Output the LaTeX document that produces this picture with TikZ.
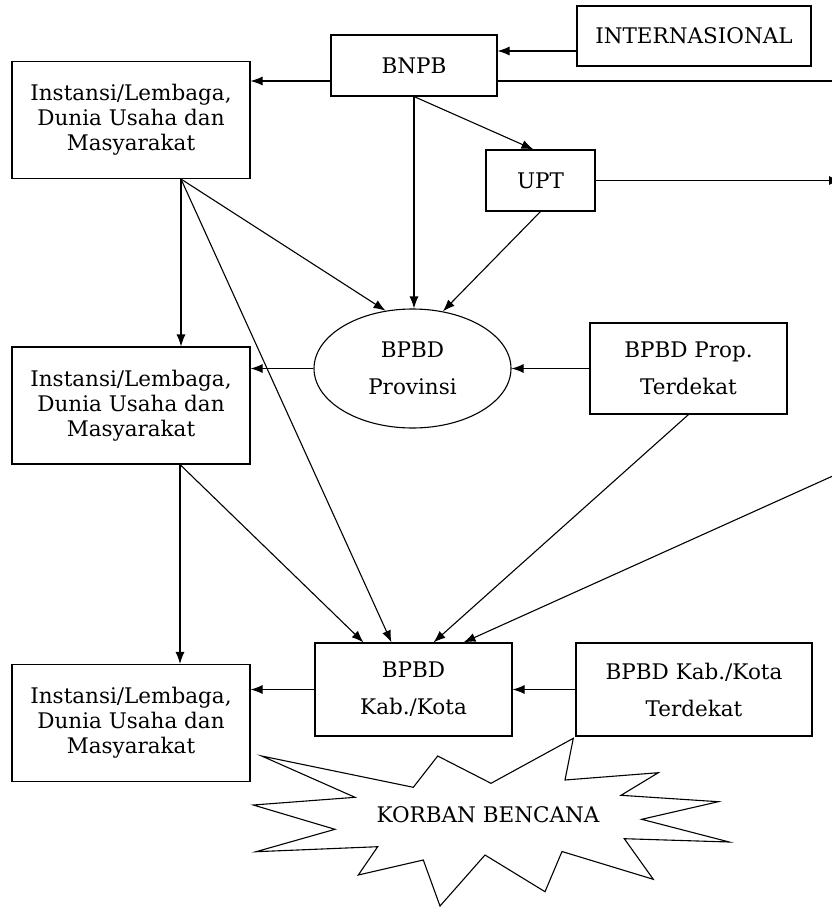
\documentclass[tikz,border=0pt]{standalone}
\usepackage{fontspec}
\setmainfont{DejaVu Serif}
\usetikzlibrary{shapes.geometric,arrows.meta}
\begin{document}
\begin{tikzpicture}[x=1pt, y=-1pt, >={Latex[length=12pt,width=9pt]}, line width=1.1pt, font={\fontsize{21.5}{25}\selectfont}]
	\tikzstyle{kotak} = [rectangle, draw=black, align=center, inner sep=0pt]
	\tikzstyle{instansi} = [kotak, minimum width=238pt, minimum height=117pt]
	\useasboundingbox (0,0) rectangle (831,909);
	\node[kotak, minimum width=234pt, minimum height=60pt] (intl) at (694,36) {INTERNASIONAL};
	\node[kotak, minimum width=166pt, minimum height=61pt] (bnpb) at (414,65.5) {BNPB};
	\node[instansi] (inst1) at (131,120) {Instansi/Lembaga,\\Dunia Usaha dan\\Masyarakat};
	\node[kotak, minimum width=109pt, minimum height=61pt] (upt) at (540.5,180.5) {UPT};
	\node[ellipse, draw, minimum width=197pt, minimum height=119pt, inner sep=0pt, align=center] (prov) at (412.5,368.5) {BPBD\\[12pt]Provinsi};
	\node[kotak, minimum width=197pt, minimum height=91pt] (prop) at (688.5,368.5) {BPBD Prop.\\[12pt]Terdekat};
	\node[instansi] (inst2) at (131,405.5) {Instansi/Lembaga,\\Dunia Usaha dan\\Masyarakat};
	\node[kotak, minimum width=197pt, minimum height=93pt] (kab) at (413.5,689.5) {BPBD\\[12pt]Kab./Kota};
	\node[kotak, minimum width=236pt, minimum height=93pt] (kabt) at (694,689.5) {BPBD Kab./Kota\\[12pt]Terdekat};
	\node[instansi] (inst3) at (131,723) {Instansi/Lembaga,\\Dunia Usaha dan\\Masyarakat};
	% korban bencana
	\draw (261.7,756) -- (413.3,787.3) -- (437.7,756) -- (491,783.3) -- (573.3,738.3) -- (565,780)
		-- (658.3,772.7) -- (621,795.3) -- (718.3,801.7) -- (641.7,819.3) -- (729.3,842) -- (624.3,838.7)
		-- (653.3,879.3) -- (562,851.5) -- (545,891.7) -- (485,855) -- (440,906) -- (423.3,860)
		-- (358.3,875) -- (377.7,846.7) -- (256,851.7) -- (335,829.3) -- (253.3,805) -- (355,797.3) -- cycle;
	\node (korban) at (488,815) {KORBAN BENCANA};
	% titik bantu
	\coordinate (a1) at ([yshift=-15pt]intl.west);
	\coordinate (b1) at ([yshift=-15.5pt]bnpb.west);
	\coordinate (b2) at ([yshift=-15.5pt]bnpb.east);
	\coordinate (kanan1) at (840,81);
	\coordinate (kanan2) at (841,178);
	\coordinate (kanan3) at (835,475);
	\coordinate (s1) at ([xshift=50pt]inst1.south);
	\coordinate (s2) at ([xshift=49pt]inst2.south);
	% garis
	\draw[->] (a1) -- (a1 -| bnpb.east);
	\draw[->] (b1) -- (b1 -| inst1.east);
	\draw (b2) -- (b2 -| kanan1);
	\draw[->] (bnpb.south) -- ([xshift=-7pt]upt.north);
	\draw[->] (upt.east) -- (upt.east -| kanan2);
	\draw[->] (bnpb.south) -- (bnpb.south |- prov.north);
	\draw[->] (upt.south) -- (prov.62);
	\draw[->] (s1) -- (prov.115);
	\draw[->] (s1) -- (s1 |- inst2.north);
	\draw[->] (s1) -- ([xshift=-22pt]kab.north);
	\draw[->] (prov.west) -- (prov.west -| inst2.east);
	\draw[->] (prop.west) -- (prov.east);
	\draw[->] (prop.south) -- ([xshift=20pt]kab.north);
	\draw[->] (kanan3) -- ([xshift=50pt]kab.north);
	\draw[->] (s2) -- ([xshift=-50pt]kab.north);
	\draw[->] (s2) -- (s2 |- inst3.north);
	\draw[->] (kabt.west) -- (kab.east);
	\draw[->] (kab.west) -- (kab.west -| inst3.east);
\end{tikzpicture}
\end{document}
